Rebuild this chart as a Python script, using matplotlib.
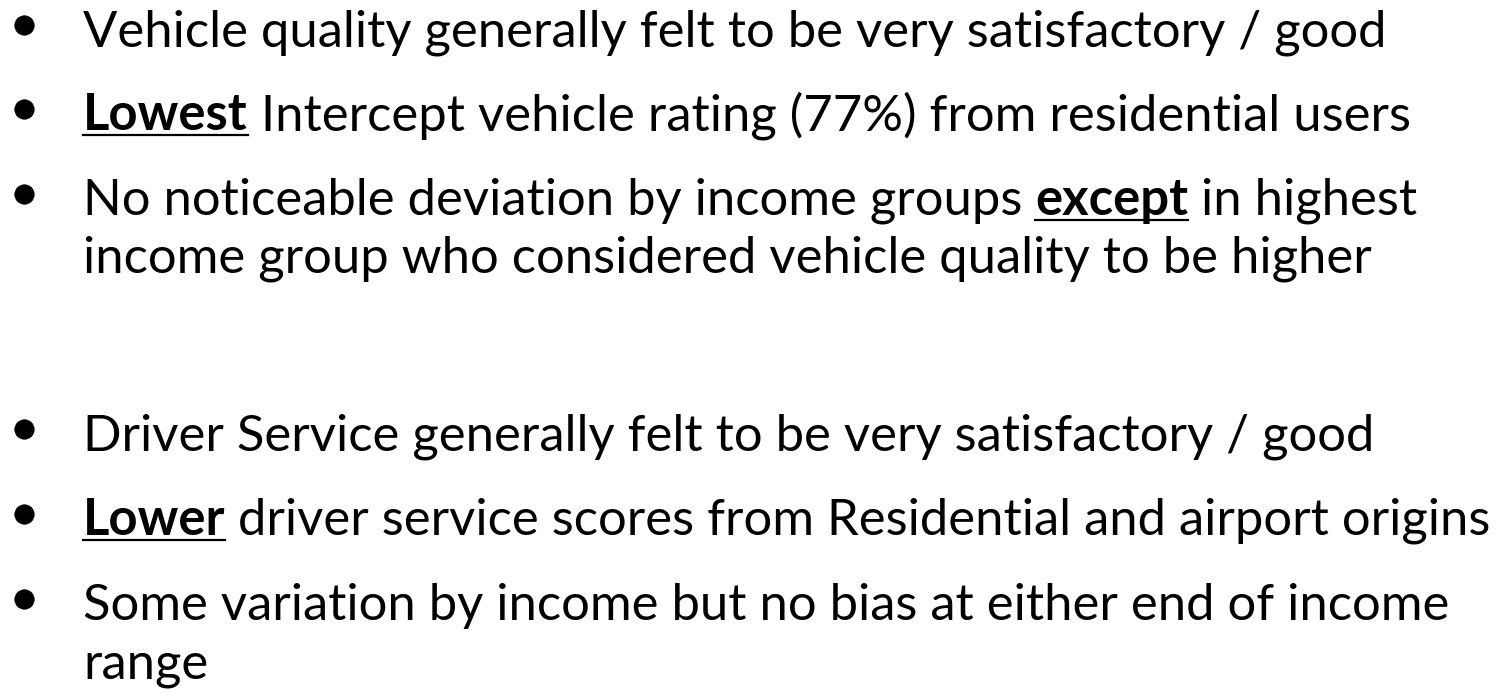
import matplotlib.pyplot as plt
from matplotlib.lines import Line2D

# slide content: each line is a list of (text, bold+underlined) pieces
lines = [
    [("Vehicle quality generally felt to be very satisfactory / good", False)],
    [("Lowest", True), ("Intercept vehicle rating (77%) from residential users", False)],
    [("No noticeable deviation by income groups", False), ("except", True), ("in highest", False)],
    [("income group who considered vehicle quality to be higher", False)],
    [("Driver Service generally felt to be very satisfactory / good", False)],
    [("Lower", True), ("driver service scores from Residential and airport origins", False)],
    [("Some variation by income but no bias at either end of income", False)],
    [("range", False)],
]
has_bullet = [True, True, True, False, True, True, True, False]
baselines = [46, 130, 215, 273, 450, 535, 620, 678]  # pixel rows from top

W, H = 1512, 698
FAMILY = 'Lato'
TEXT_X = 83
BULLET_X = 24

fig = plt.figure(figsize=(W / 100, H / 100), dpi=100)
fig.patch.set_facecolor('white')
r = fig.canvas.get_renderer()


def measure(s, fs, bold):
    t = fig.text(0, 0, s, fontsize=fs, family=FAMILY,
                 weight='bold' if bold else 'normal')
    w = t.get_window_extent(r).width
    t.remove()
    return w


# fit the font size so the lines span roughly like in the slide
fs = 1.005 * 30 * 1295 / measure(lines[0][0][0], 30, False)
space = measure("a a", fs, False) - measure("aa", fs, False)

for segs, bul, yb in zip(lines, has_bullet, baselines):
    yf = 1 - yb / H
    if bul:
        fig.add_artist(Line2D([BULLET_X / W], [1 - (yb - 21.5) / H], marker='o',
                              ms=14, mew=0.5, color='black', mec='black',
                              transform=fig.transFigure))
    x = TEXT_X
    for s, bold in segs:
        w = measure(s, fs, bold)
        fig.text(x / W, yf, s, fontsize=fs, family=FAMILY,
                 weight='bold' if bold else 'normal', va='baseline', color='black')
        if bold:
            uy = 1 - (yb + 4.5) / H
            fig.add_artist(Line2D([x / W, (x + w) / W], [uy, uy], color='black',
                                  lw=1.6, transform=fig.transFigure))
        x += w + space

fig.savefig('out.png', dpi=100, facecolor='white')
